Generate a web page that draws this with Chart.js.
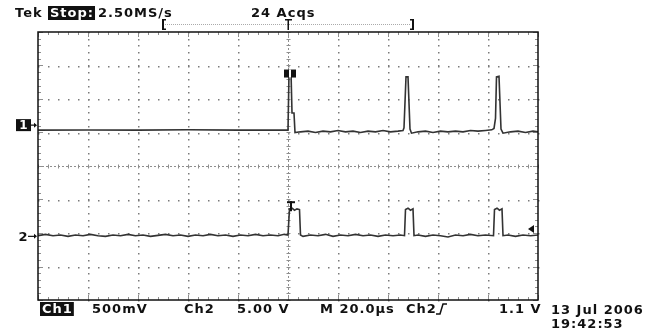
<!DOCTYPE html>
<html lang="en">
<head>
    <meta charset="UTF-8">
    <title>Tek TDS capture 13 Jul 2006</title>
    <script src="https://cdn.jsdelivr.net/npm/chart.js"></script>
    <style>
        body { margin: 0; background: #fff; }
        canvas { display: block; }
    </style>
</head>
<body>
<canvas id="scope" width="651" height="331"></canvas>

<script>
    // Horizontal: 10 divisions of 20 us, trigger in the middle
    const timeRange = [-100, 100];
    const timePerDiv = 20;
    // Vertical: 8 divisions
    const divRange = [-4, 4];

    // Channel 1: 500 mV/div, ground marker 1.22 div above centre
    const ch1VoltsPerDiv = 0.5;
    const ch1Ground = 1.22;
    const ch1Time = [-100, -80, -60, -40, -20, -5, 0.0,
        0.4, 1.2, 1.6, 2.4, 2.8,
        5, 8, 11, 14, 17, 20, 23, 26, 29, 32, 35, 38, 41, 44, 46.0,
        46.4, 47.2, 48.0, 48.8, 49.4,
        52, 55, 58, 61, 64, 67, 70, 73, 76, 79, 81.5,
        82.4, 83.0, 83.4, 84.4, 85.2, 86,
        89, 92, 95, 98, 100];
    const ch1Volts = [-0.075, -0.072, -0.075, -0.07, -0.075, -0.075, -0.075,
        0.78, 0.80, 0.18, 0.18, -0.11,
        -0.10, -0.09, -0.11, -0.09, -0.10, -0.08, -0.10, -0.09, -0.11, -0.09, -0.10, -0.08, -0.10, -0.09, -0.08,
        -0.04, 0.72, 0.72, -0.06, -0.12,
        -0.10, -0.09, -0.11, -0.09, -0.10, -0.09, -0.10, -0.08, -0.09, -0.08, -0.07,
        -0.05, 0.10, 0.72, 0.73, -0.06, -0.12,
        -0.10, -0.09, -0.11, -0.09, -0.10];

    // Channel 2: 5 V/div, ground marker 2.1 div below centre, trigger level 1.1 V
    const ch2VoltsPerDiv = 5;
    const ch2Ground = -2.1;
    const trigLevel = 1.1;
    const ch2Time = [-100, -97, -94, -91, -88, -85, -82, -79, -76, -73, -70, -67, -64, -61, -58, -55, -52,
        -49, -46, -43, -40, -37, -34, -31, -28, -25, -22, -19, -16, -13, -10, -7, -4, -1.5, 0,
        0.6, 1.6, 2.6, 3.6, 4.6, 5.0,
        6, 9, 12, 15, 18, 21, 24, 27, 30, 33, 36, 39, 42, 45, 46.6,
        47.0, 48.0, 49.0, 50.0, 50.4,
        52, 55, 58, 61, 64, 67, 70, 73, 76, 79, 82.2,
        82.6, 83.6, 84.6, 85.6, 86.0,
        88, 91, 94, 97, 100];
    const ch2Volts = [0.1, 0.3, 0.1, 0.2, 0.0, 0.2, 0.1, 0.3, 0.1, 0.0, 0.2, 0.1, 0.3, 0.1, 0.2, 0.0, 0.15,
        0.3, 0.1, 0.2, 0.0, 0.2, 0.1, 0.3, 0.1, 0.2, 0.0, 0.2, 0.1, 0.3, 0.1, 0.2, 0.1, 0.3, 0.2,
        4.1, 4.2, 3.9, 4.1, 4.0, 0.2,
        0.0, 0.2, 0.1, 0.3, 0.0, 0.2, 0.1, 0.3, 0.1, 0.2, 0.0, 0.2, 0.1, 0.2, 0.1,
        4.0, 4.2, 3.9, 4.1, 0.1,
        0.2, 0.0, 0.2, 0.1, -0.1, 0.2, 0.1, 0.3, 0.1, 0.2, 0.1,
        4.0, 4.2, 3.9, 4.1, 0.1,
        0.2, 0.0, 0.2, 0.1, 0.2];

    // Readouts
    const headerText = [['Tek', 15, false], ['Stop:', 50, true], ['2.50MS/s', 98, false], ['24 Acqs', 251, false]];
    const footerText = [['Ch1', 42, true], ['500mV', 92, false], ['Ch2', 184, false], ['5.00 V', 237, false],
        ['M 20.0\u00b5s', 320, false], ['Ch2', 406, false], ['1.1 V', 499, false]];
    const dateText = ['13 Jul 2006', '19:42:53'];

    function toPoints(times, volts, perDiv, ground) {
        return times.map((t, i) => ({ x: t, y: ground + volts[i] / perDiv }));
    }

    const FONT = 'bold 13px "DejaVu Sans"';

    function label(ctx, text, x, y, inverse) {
        ctx.font = FONT;
        ctx.letterSpacing = '1px';
        ctx.textBaseline = 'middle';
        ctx.textAlign = 'left';
        if (inverse) {
            const w = ctx.measureText(text).width;
            ctx.fillStyle = '#111';
            ctx.fillRect(x - 2, y - 7, w + 3, 14);
            ctx.fillStyle = '#fff';
        } else {
            ctx.fillStyle = '#111';
        }
        ctx.fillText(text, x, y + 1);
    }

    // Graticule, frame, channel markers and readouts
    const scopeScreen = {
        id: 'scopeScreen',
        beforeDatasetsDraw(chart) {
            const ctx = chart.ctx;
            const xs = chart.scales.x, ys = chart.scales.y;
            const area = chart.chartArea;
            const minorT = timePerDiv / 5, minorV = 0.2;
            ctx.save();
            ctx.fillStyle = '#7a7a7a';

            // dotted division lines
            for (let t = timeRange[0] + timePerDiv; t < timeRange[1]; t += timePerDiv) {
                if (t === 0) continue;
                const px = Math.round(xs.getPixelForValue(t));
                for (let v = divRange[0]; v <= divRange[1] + 0.001; v += minorV) {
                    ctx.fillRect(px, Math.round(ys.getPixelForValue(v)), 1.5, 1.5);
                }
            }
            for (let d = divRange[0] + 1; d < divRange[1]; d++) {
                if (d === 0) continue;
                const py = Math.round(ys.getPixelForValue(d));
                for (let t = timeRange[0]; t <= timeRange[1]; t += minorT) {
                    ctx.fillRect(Math.round(xs.getPixelForValue(t)), py, 1.5, 1.5);
                }
            }

            // centre crosshair with minor ticks
            const cx = Math.round(xs.getPixelForValue(0)) + 0.5;
            const cy = Math.round(ys.getPixelForValue(0)) + 0.5;
            ctx.strokeStyle = '#8f8f8f';
            ctx.lineWidth = 1;
            ctx.setLineDash([2, 2]);
            ctx.beginPath();
            ctx.moveTo(area.left, cy); ctx.lineTo(area.right, cy);
            ctx.moveTo(cx, area.top); ctx.lineTo(cx, area.bottom);
            ctx.stroke();
            ctx.setLineDash([]);
            ctx.beginPath();
            for (let t = timeRange[0]; t <= timeRange[1]; t += minorT) {
                const px = Math.round(xs.getPixelForValue(t)) + 0.5;
                ctx.moveTo(px, cy - 2); ctx.lineTo(px, cy + 2);
                const len = (t % timePerDiv === 0) ? 5 : 3;
                ctx.moveTo(px, area.top); ctx.lineTo(px, area.top + len);
                ctx.moveTo(px, area.bottom); ctx.lineTo(px, area.bottom - len);
            }
            for (let v = divRange[0]; v <= divRange[1] + 0.001; v += minorV) {
                const py = Math.round(ys.getPixelForValue(v)) + 0.5;
                ctx.moveTo(cx - 2, py); ctx.lineTo(cx + 2, py);
                const len = (Math.abs(v - Math.round(v)) < 0.01) ? 5 : 3;
                ctx.moveTo(area.left, py); ctx.lineTo(area.left + len, py);
                ctx.moveTo(area.right, py); ctx.lineTo(area.right - len, py);
            }
            ctx.stroke();
            ctx.restore();
        },
        afterDatasetsDraw(chart) {
            const ctx = chart.ctx;
            const xs = chart.scales.x, ys = chart.scales.y;
            const area = chart.chartArea;
            ctx.save();

            // frame
            ctx.strokeStyle = '#111';
            ctx.lineWidth = 1.5;
            ctx.strokeRect(area.left, area.top, area.right - area.left, area.bottom - area.top);

            // channel ground markers
            const g1 = ys.getPixelForValue(ch1Ground);
            const g2 = ys.getPixelForValue(ch2Ground);
            ctx.fillStyle = '#111';
            ctx.fillRect(16, g1 - 6, 15, 12);
            ctx.font = 'bold 12px "DejaVu Sans"';
            ctx.textBaseline = 'middle';
            ctx.textAlign = 'center';
            ctx.fillStyle = '#fff';
            ctx.fillText('1', 23.5, g1 + 1);
            ctx.fillStyle = '#111';
            ctx.font = 'bold 13px "DejaVu Sans"';
            ctx.fillText('2', 23, g2 + 1);
            ctx.lineWidth = 1.2;
            ctx.strokeStyle = '#111';
            [[31, g1], [28, g2]].forEach(([x0, y]) => {
                ctx.beginPath();
                ctx.moveTo(x0, y); ctx.lineTo(area.left - 2, y);
                ctx.stroke();
                ctx.beginPath();
                ctx.moveTo(area.left - 1, y);
                ctx.lineTo(area.left - 4, y - 2.5);
                ctx.lineTo(area.left - 4, y + 2.5);
                ctx.closePath();
                ctx.fill();
            });

            // trigger level arrow for Ch2
            const tl = ys.getPixelForValue(ch2Ground + trigLevel / ch2VoltsPerDiv);
            ctx.beginPath();
            ctx.moveTo(area.right - 10, tl);
            ctx.lineTo(area.right - 4, tl - 4);
            ctx.lineTo(area.right - 4, tl + 4);
            ctx.closePath();
            ctx.fill();

            // trigger point markers on the traces
            const tx = xs.getPixelForValue(0);
            const peak1 = ys.getPixelForValue(ch1Ground + ch1Volts[8] / ch1VoltsPerDiv);
            ctx.fillRect(tx - 4, peak1 - 2, 12, 8);
            ctx.fillStyle = '#fff';
            ctx.fillRect(tx + 1, peak1 - 2, 2, 8);
            ctx.fillStyle = '#111';
            const top2 = ys.getPixelForValue(ch2Ground + ch2Volts[36] / ch2VoltsPerDiv);
            ctx.fillRect(tx - 1, top2 - 7, 8, 2);
            ctx.fillRect(tx + 2, top2 - 7, 2, 10);
            ctx.restore();
        },
        afterDraw(chart) {
            const ctx = chart.ctx;
            const xs = chart.scales.x;
            ctx.save();
            headerText.forEach(([t, x, inv]) => label(ctx, t, x, 13, inv));

            // record window bracket
            const tx = xs.getPixelForValue(0);
            ctx.strokeStyle = '#aaa';
            ctx.lineWidth = 1;
            ctx.setLineDash([1, 1]);
            ctx.beginPath();
            ctx.moveTo(165, 24.5); ctx.lineTo(411, 24.5);
            ctx.stroke();
            ctx.setLineDash([]);
            ctx.fillStyle = '#111';
            ctx.fillRect(162, 19, 2, 11); ctx.fillRect(162, 19, 4, 1.5); ctx.fillRect(162, 28.5, 4, 1.5);
            ctx.fillRect(412, 19, 2, 11); ctx.fillRect(410, 19, 4, 1.5); ctx.fillRect(410, 28.5, 4, 1.5);
            ctx.fillRect(tx - 3, 19, 7, 1.5); ctx.fillRect(tx - 0.5, 19, 1.5, 11);

            footerText.forEach(([t, x, inv]) => label(ctx, t, x, 309, inv));
            // rising edge symbol
            ctx.strokeStyle = '#111';
            ctx.lineWidth = 1.5;
            ctx.beginPath();
            ctx.moveTo(436, 314); ctx.lineTo(440, 314); ctx.lineTo(443, 304); ctx.lineTo(447, 304);
            ctx.stroke();

            label(ctx, dateText[0], 551, 310, false);
            label(ctx, dateText[1], 551, 324, false);
            ctx.restore();
        }
    };

    const traceStyle = { borderWidth: 1.6, pointRadius: 0, tension: 0, fill: false };

    new Chart(document.getElementById('scope').getContext('2d'), {
        type: 'line',
        data: {
            datasets: [
                Object.assign({ label: 'Ch1', data: toPoints(ch1Time, ch1Volts, ch1VoltsPerDiv, ch1Ground),
                    borderColor: '#333' }, traceStyle),
                Object.assign({ label: 'Ch2', data: toPoints(ch2Time, ch2Volts, ch2VoltsPerDiv, ch2Ground),
                    borderColor: '#333' }, traceStyle)
            ]
        },
        options: {
            responsive: false,
            animation: false,
            devicePixelRatio: 1,
            layout: { padding: { left: 38, right: 113, top: 32, bottom: 31 } },
            plugins: { legend: { display: false }, tooltip: { enabled: false } },
            scales: {
                x: { type: 'linear', min: timeRange[0], max: timeRange[1], display: false },
                y: { type: 'linear', min: divRange[0], max: divRange[1], display: false }
            }
        },
        plugins: [scopeScreen]
    });
</script>
</body>
</html>
